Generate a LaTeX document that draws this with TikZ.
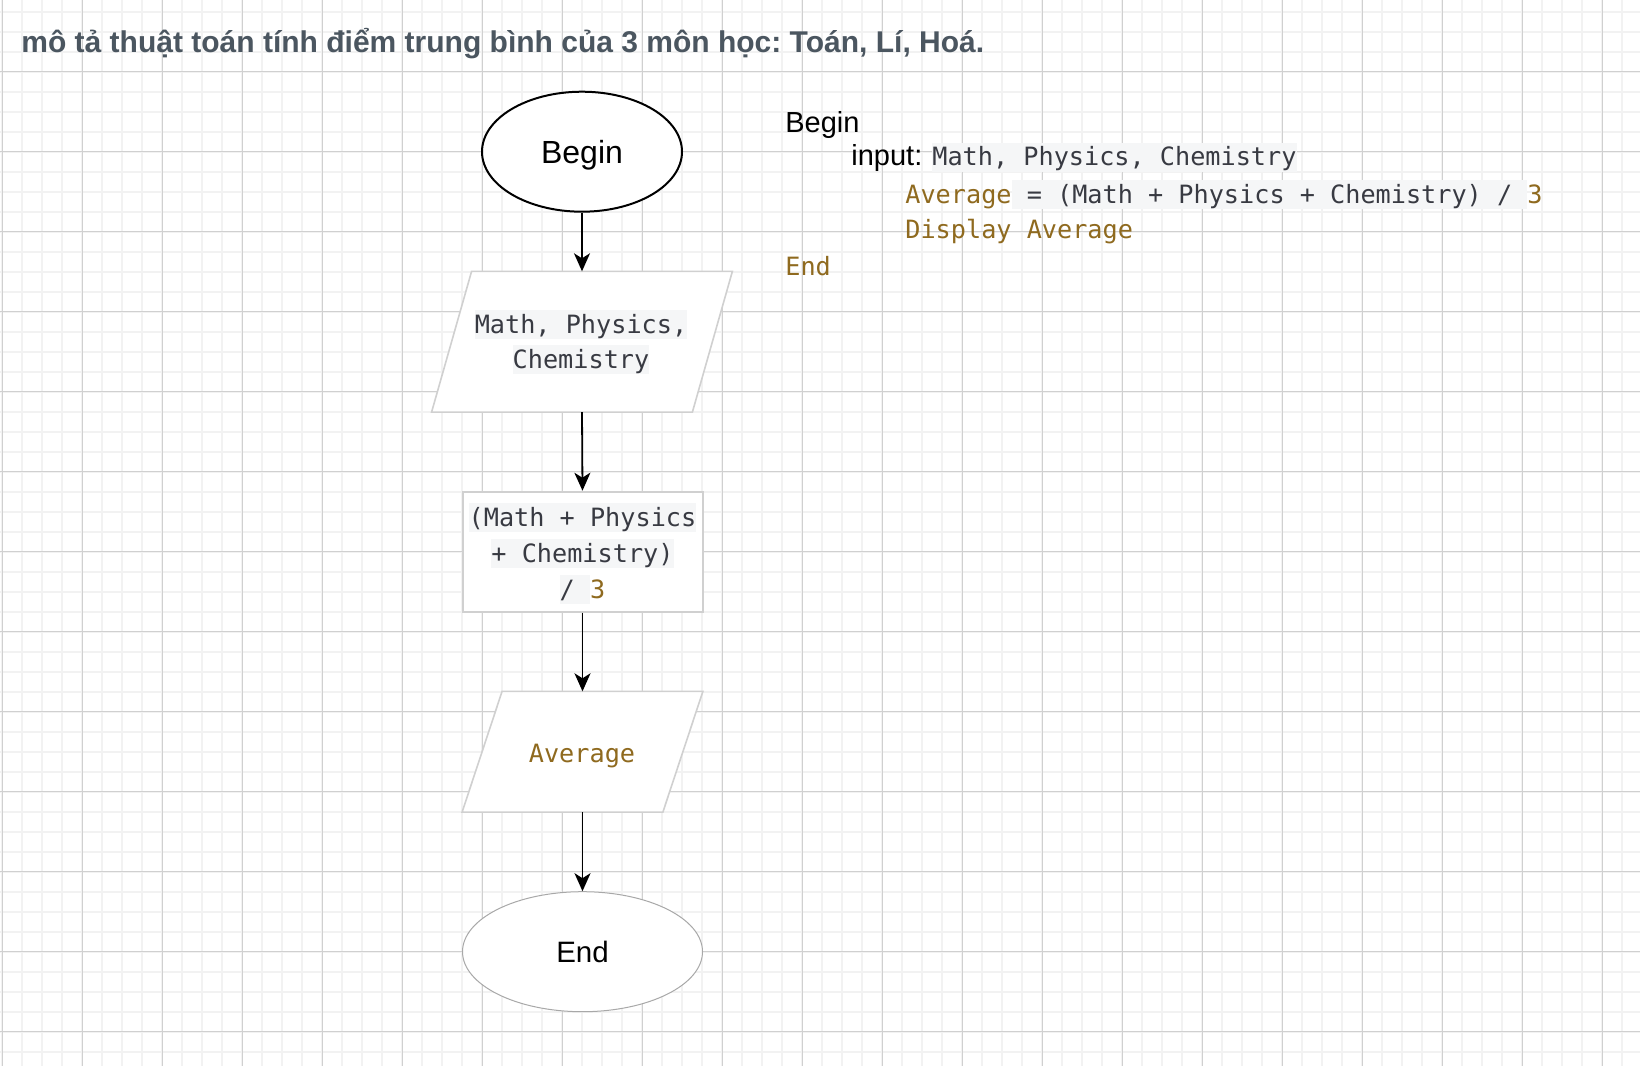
\documentclass[tikz,border=0pt]{standalone}
\usepackage{fontspec}
\setmainfont{Liberation Sans}
\newfontfamily\codefont{DejaVu Sans Mono}
\usetikzlibrary{arrows.meta,shapes.geometric}
\definecolor{minorc}{HTML}{F2F2F2}
\definecolor{majorc}{HTML}{D0D0D0}
\definecolor{titlec}{HTML}{4B5660}
\definecolor{codec}{HTML}{383A42}
\definecolor{brownc}{HTML}{8F6A1F}
\definecolor{codebg}{HTML}{F5F6F7}
\definecolor{shapec}{HTML}{D0D0D0}
\definecolor{endc}{HTML}{A8A8A8}
\newcommand{\chl}[1]{\begingroup\setlength{\fboxsep}{0pt}\colorbox{codebg}{\rule[-3pt]{0pt}{14.5pt}#1}\endgroup}
\newcommand{\brn}[1]{\textcolor{brownc}{#1}}
\frenchspacing
\begin{document}
\begin{tikzpicture}[x=0.5pt,y=-0.5pt,
  minorgrid/.style={draw=minorc,line width=1pt},
  majorgrid/.style={draw=majorc,line width=0.5pt},
  boxnode/.style={rectangle,draw=none,inner sep=0pt},
  shapeline/.style={draw=shapec,line width=0.8pt,fill=white},
  codetext/.style={inner sep=0pt,text=codec,font=\codefont\fontsize{12.6}{15}\selectfont\frenchspacing},
  arr/.style={draw=black,line width=0.9pt,-{Stealth[length=9pt,width=8pt,inset=2.5pt]}}]
\useasboundingbox (0,0) rectangle (1640,1066);
\fill[white] (0,0) rectangle (1640,1066);
% grid
\foreach \i in {0,...,81} \draw[minorgrid] ({2+20*\i},0) -- ({2+20*\i},1066);
\foreach \j in {0,...,52} \draw[minorgrid] (0,{11.7+20*\j}) -- (1640,{11.7+20*\j});
\foreach \i in {0,...,20} \draw[majorgrid] ({2+80*\i},0) -- ({2+80*\i},1066);
\foreach \j in {0,...,12} \draw[majorgrid] (0,{71.7+80*\j}) -- (1640,{71.7+80*\j});

% title
\node[anchor=base west,inner sep=0pt,text=titlec,font=\bfseries\fontsize{15}{17}\selectfont\frenchspacing] (title) at (21,52) {mô tả thuật toán tính điểm trung bình của 3 môn học: Toán, Lí, Hoá.};

% flowchart shapes
\node[ellipse,draw=black,line width=1pt,fill=white,minimum width=100pt,minimum height=60pt,inner sep=0pt,
      text height=11.45pt,text depth=0pt,font=\fontsize{16}{19}\selectfont] (begin) at (582,151.7) {Begin};

\node[boxnode,minimum width=150pt,minimum height=70pt] (in1) at (582,341.7) {};
\draw[shapeline] ([xshift=20pt]in1.north west) -- (in1.north east) -- ([xshift=-20pt]in1.south east) -- (in1.south west) -- cycle;
\node[codetext,anchor=base] (in1a) at (581,333) {\chl{Math, Physics,}};
\node[codetext,anchor=base] (in1b) at (581,368) {\chl{Chemistry}};

\node[boxnode,draw=shapec,line width=1pt,fill=white,minimum width=120pt,minimum height=60pt] (calc) at (582.5,551.7) {};
\node[codetext,anchor=base] (calca) at (582.5,526) {\chl{(Math + Physics}};
\node[codetext,anchor=base] (calcb) at (582.5,562) {\chl{+ Chemistry)}};
\node[codetext,anchor=base] (calcc) at (582.5,598) {\chl{/ }\brn{3}};

\node[boxnode,minimum width=120pt,minimum height=60pt] (out1) at (582.5,751.7) {};
\draw[shapeline] ([xshift=20pt]out1.north west) -- (out1.north east) -- ([xshift=-20pt]out1.south east) -- (out1.south west) -- cycle;
\node[codetext,anchor=base,text=brownc] (out1a) at (582,762) {Average};

\node[ellipse,draw=endc,line width=0.5pt,fill=white,minimum width=120pt,minimum height=60pt,inner sep=0pt,
      text height=10.56pt,text depth=0pt,font=\fontsize{14.75}{17}\selectfont] (end) at (582.5,951.7) {End};

% connectors
\draw[arr] (begin.south) -- (in1.north);
\draw[arr] (in1.south) -- (calc.north);
\draw[arr] (calc.south) -- (out1.north);
\draw[arr] (out1.south) -- (end.north);

% pseudocode
\node[anchor=base west,inner sep=0pt,font=\fontsize{14.5}{17}\selectfont] (pbegin) at (785,132.3) {Begin};
\node[anchor=base west,inner sep=0pt,font=\fontsize{14.5}{17}\selectfont] (pinput) at (851,165.7) {input:};
\node[codetext,anchor=base west] (pinvars) at (932,165.7) {\chl{Math, Physics, Chemistry}};
\node[codetext,anchor=base west] (pavg) at (905,203) {\brn{Average}\chl{ = (Math + Physics + Chemistry) / }\brn{3}};
\node[codetext,anchor=base west,text=brownc] (pdisp) at (905,238.5) {Display Average};
\node[codetext,anchor=base west,text=brownc] (pend) at (785,275) {End};
\end{tikzpicture}
\end{document}
